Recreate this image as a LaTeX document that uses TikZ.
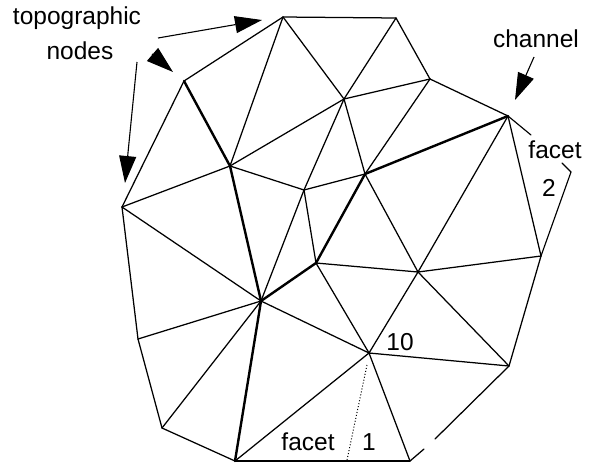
\documentclass[tikz,border=0pt]{standalone}
\usepackage{fontspec}
\setmainfont{Liberation Sans}
\usetikzlibrary{arrows.meta}

\begin{document}
\begin{tikzpicture}[x=1pt,y=-1pt,every node/.style={font=\fontsize{24.5}{26}\selectfont},edge/.style={line width=1.25pt,line cap=round},channel/.style={line width=2.4pt,line cap=round},pointer/.style={line width=1.1pt,-{Triangle[length=27pt,width=17pt]}},facetline/.style={line width=1.15pt,line cap=round}]
\useasboundingbox (0,0) rectangle (593,464);
% mesh points
\coordinate (a) at (283,17);\coordinate (b) at (396,18);\coordinate (c) at (430,79);\coordinate (d) at (508,116);
\coordinate (e) at (184,81);\coordinate (f) at (122,207);\coordinate (g) at (230,166);\coordinate (h) at (344,99);
\coordinate (i) at (365,174);\coordinate (j) at (304,190);\coordinate (k) at (316,263);\coordinate (l) at (261,301);
\coordinate (m) at (369,353);\coordinate (n) at (418,272);\coordinate (o) at (541,256);\coordinate (p) at (509,366);
\coordinate (q) at (410,461);\coordinate (r) at (235,461);\coordinate (s) at (162,428);\coordinate (t) at (138,339);
\foreach \a/\b in {f/e,e/a,a/b,b/c,c/d,d/o,o/p,f/t,t/s,s/r,r/q,a/g,a/h,b/h,g/h,h/c,h/j,h/i,c/i,j/i,g/j,f/g,j/k,j/l,f/l,t/l,s/l,l/m,k/m,k/n,i/n,d/n,n/o,n/m,n/p,m/p,m/r,m/q}{\draw[edge] (\a)--(\b);}
\foreach \a/\b in {e/g,g/l,l/r,l/k,k/i,i/d}{\draw[channel] (\a)--(\b);}
% broken edge at the lower right
\coordinate (q1) at (424,449);\coordinate (p1) at (435,439);
\draw[edge] (q)--(q1);\draw[edge] (p1)--(p);
% facet marks
\coordinate (d1) at (531,135);\coordinate (o1) at (562,163);\coordinate (o2) at (571,172);
\coordinate (m1) at (367,365);\coordinate (r1) at (347,460);
\draw[facetline] (d)--(d1);\draw[facetline] (o1)--(o2)--(o);
\draw[line width=1pt,dotted] (m1)--(r1);
% labels
\node (topo) at (77,18) {topographic};\node (nodes) at (80,51) {nodes};\node (chan) at (536,39) {channel};
\node (facettwo) at (555,150) {facet};\node (two) at (549,188) {2};
\node (ten) at (400,342) {10};\node (facetone) at (308,442) {facet};\node (one) at (369,442) {1};
% pointers
\coordinate (u1) at (158,38);\coordinate (u2) at (262,20);\coordinate (u3) at (137,62);\coordinate (u4) at (125,183);
\coordinate (u5) at (152,54);\coordinate (u6) at (173,72);\coordinate (u7) at (534,57);\coordinate (u8) at (515,100);
\foreach \a/\b in {u1/u2,u3/u4,u5/u6,u7/u8}{\draw[pointer] (\a)--(\b);}
\end{tikzpicture}
\end{document}
